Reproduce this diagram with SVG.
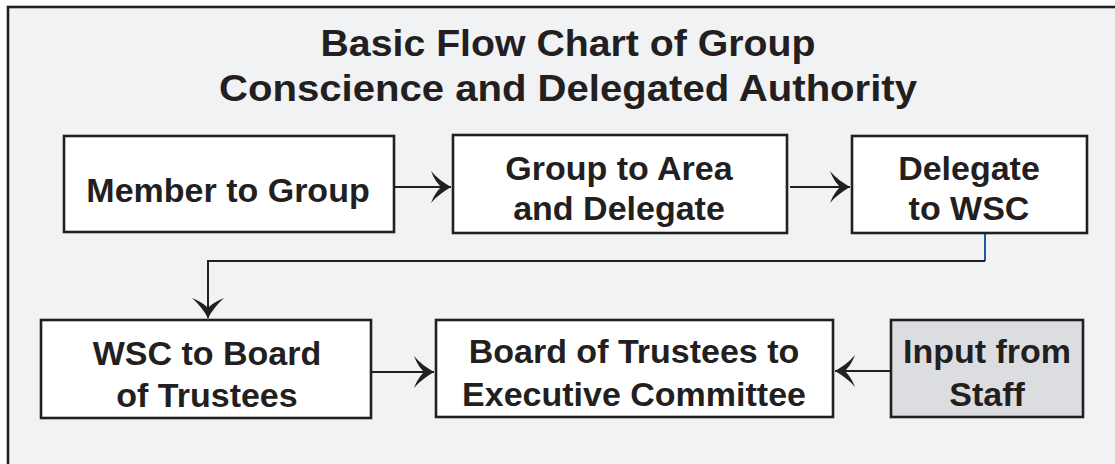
<svg xmlns="http://www.w3.org/2000/svg" width="1115" height="464" viewBox="0 0 1115 464">
  <style>
    .frame { fill: #f1f2f4; stroke: #231f20; stroke-width: 2.6; }
    .box { fill: #ffffff; stroke: #231f20; stroke-width: 2.6; }
    .box.gray { fill: #dcdde0; }
    .lbl { font-family: "Liberation Sans", Arial, Helvetica, sans-serif; font-weight: bold; font-size: 34px; fill: #231f20; text-anchor: middle; }
    .title { font-family: "Liberation Sans", Arial, Helvetica, sans-serif; font-weight: bold; font-size: 37px; fill: #231f20; text-anchor: middle; }
    .conn { fill: none; stroke: #231f20; stroke-width: 2; }
    .conn.blue { stroke: #1f5aa0; }
  </style>
  <defs>
    <marker id="arrow" markerUnits="userSpaceOnUse" markerWidth="26" markerHeight="36" viewBox="-22 -18 26 36" refX="0" refY="0" orient="auto">
      <path d="M0,0 C-7,-4 -14,-9 -20,-16 C-17,-8 -13,-3 -10,0 C-13,3 -17,8 -20,16 C-14,9 -7,4 0,0 Z" fill="#231f20"/>
    </marker>
  </defs>

  <rect x="0" y="0" width="1115" height="464" fill="#ffffff"/>
  <rect class="frame" x="8" y="7" width="1130" height="480"/>

  <g id="title">
    <text class="title" x="568" y="56" textLength="495" lengthAdjust="spacingAndGlyphs">Basic Flow Chart of Group</text>
    <text class="title" x="568" y="101" textLength="698" lengthAdjust="spacingAndGlyphs">Conscience and Delegated Authority</text>
  </g>

  <g id="connectors">
    <path class="conn" d="M394,187 L451,187" marker-end="url(#arrow)"/>
    <path class="conn" d="M790,187 L850,187" marker-end="url(#arrow)"/>
    <path class="conn blue" d="M985,233 L985,261"/>
    <path class="conn" d="M985,261 L208,261 L208,318" marker-end="url(#arrow)"/>
    <path class="conn" d="M371,372 L434,372" marker-end="url(#arrow)"/>
    <path class="conn" d="M891,371 L835,371" marker-end="url(#arrow)"/>
  </g>

  <g id="member-to-group">
    <rect class="box" x="64" y="136" width="330" height="96"/>
    <text class="lbl" x="228" y="202">Member to Group</text>
  </g>

  <g id="group-to-area">
    <rect class="box" x="453" y="135" width="334" height="98"/>
    <text class="lbl" x="619" y="180">Group to Area</text>
    <text class="lbl" x="619" y="220">and Delegate</text>
  </g>

  <g id="delegate-to-wsc">
    <rect class="box" x="852" y="136" width="235" height="97"/>
    <text class="lbl" x="969" y="180">Delegate</text>
    <text class="lbl" x="969" y="220">to WSC</text>
  </g>

  <g id="wsc-to-board">
    <rect class="box" x="41" y="320" width="330" height="98"/>
    <text class="lbl" x="207" y="365">WSC to Board</text>
    <text class="lbl" x="207" y="407">of Trustees</text>
  </g>

  <g id="board-to-exec">
    <rect class="box" x="436" y="320" width="397" height="97"/>
    <text class="lbl" x="634" y="363">Board of Trustees to</text>
    <text class="lbl" x="634" y="406">Executive Committee</text>
  </g>

  <g id="input-from-staff">
    <rect class="box gray" x="891" y="320" width="192" height="97"/>
    <text class="lbl" x="987" y="363">Input from</text>
    <text class="lbl" x="987" y="406">Staff</text>
  </g>
</svg>
